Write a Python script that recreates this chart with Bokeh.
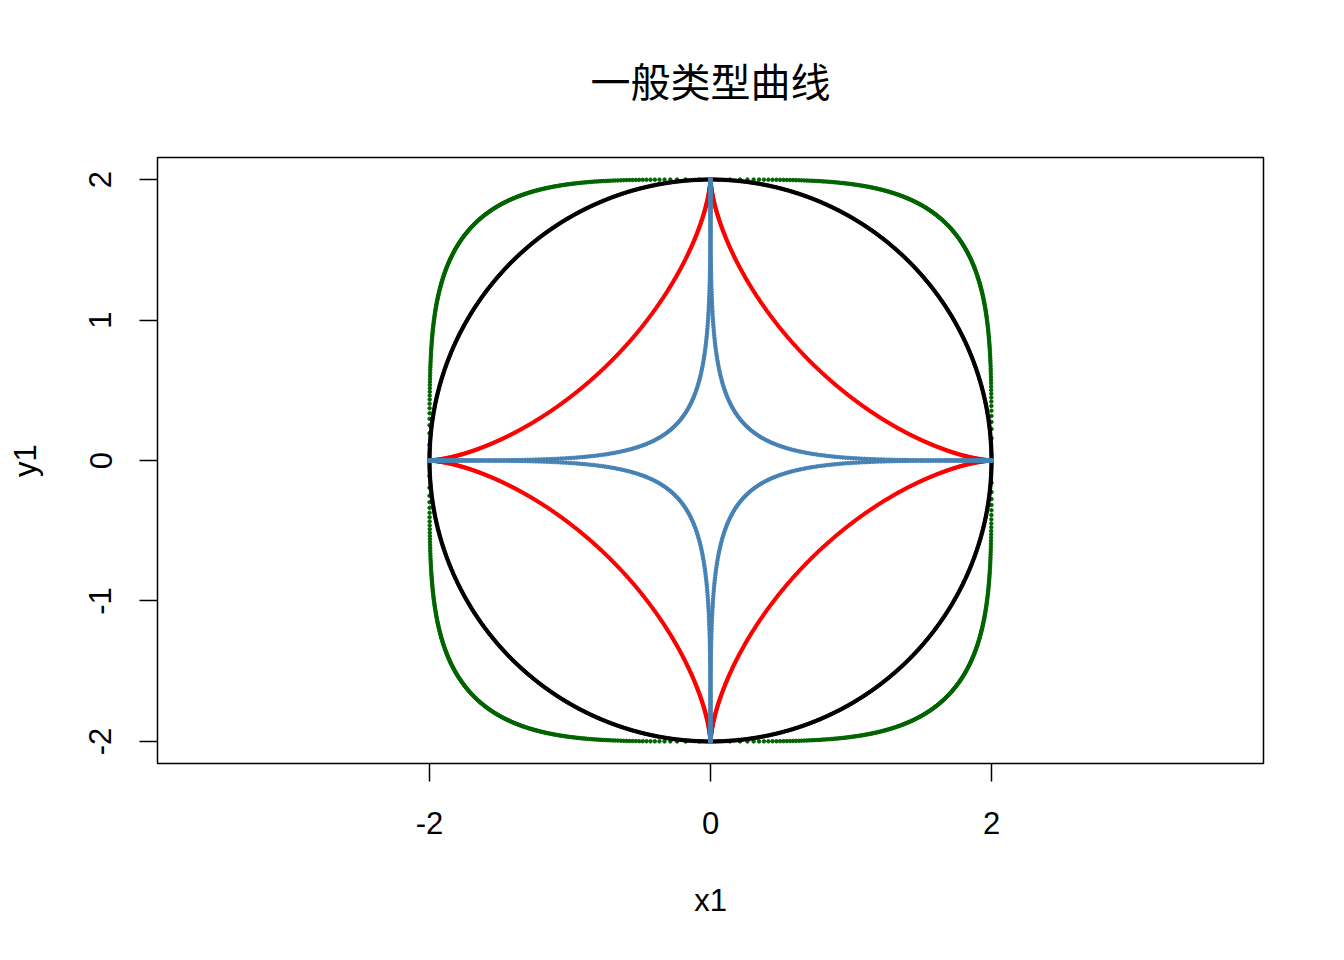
import numpy as np
from bokeh.plotting import figure
from bokeh.models import Range1d, FixedTicker
from bokeh.embed import file_html
from bokeh.resources import INLINE

# Curve family: x = 2*sgn(cos t)|cos t|^k, y = 2*sgn(sin t)|sin t|^k
curve_names = ["n=4", "circle", "astroid", "star"]
exponents_k = [0.5, 1.0, 3.0, 6.0]
curve_colors = ["#006400", "#000000", "#FF0000", "#4682B4"]
radius = 2.0
n_points = 1000
x_ticks = [-2, 0, 2]
y_ticks = [-2, -1, 0, 1, 2]

t = np.linspace(0, 2 * np.pi, n_points)

p = figure(width=1344, height=960, output_backend="svg", toolbar_location=None,
           x_range=Range1d(-3.936, 3.936), y_range=Range1d(-2.157, 2.157),
           min_border_left=157, min_border_right=81, min_border_top=157, min_border_bottom=197,
           title="一般类型曲线")
p.background_fill_color = "white"
p.border_fill_color = "white"
p.outline_line_color = "black"
p.outline_line_width = 1.5
p.grid.visible = False

for k, col in zip(exponents_k, curve_colors):
    c, s = np.cos(t), np.sin(t)
    x = radius * np.sign(c) * np.abs(c) ** k
    y = radius * np.sign(s) * np.abs(s) ** k
    p.scatter(x, y, size=3.5, color=col, line_color=col)

p.title.align = "center"
p.title.text_font = "Noto Sans CJK SC"
p.title.text_font_size = "40px"
p.title.text_font_style = "normal"
p.title.text_color = "black"
p.title.standoff = 97

for ax in (p.xaxis[0], p.yaxis[0]):
    ax.axis_line_color = None
    ax.major_tick_in = 0
    ax.major_tick_out = 18
    ax.major_tick_line_width = 1.5
    ax.major_tick_line_color = "black"
    ax.minor_tick_line_color = None
    ax.major_label_text_font = "Liberation Sans"
    ax.major_label_text_font_size = "31px"
    ax.major_label_text_color = "black"
    ax.axis_label_text_font = "Liberation Sans"
    ax.axis_label_text_font_size = "31px"
    ax.axis_label_text_font_style = "normal"
    ax.axis_label_text_color = "black"

p.xaxis[0].ticker = FixedTicker(ticks=x_ticks)
p.yaxis[0].ticker = FixedTicker(ticks=y_ticks)
p.xaxis[0].major_label_overrides = {v: str(v) for v in x_ticks}
p.yaxis[0].major_label_overrides = {v: str(v) for v in y_ticks}
p.xaxis[0].axis_label = "x1"
p.yaxis[0].axis_label = "y1"
p.yaxis[0].major_label_orientation = "vertical"
p.xaxis[0].major_label_standoff = 30
p.yaxis[0].major_label_standoff = 28
p.xaxis[0].axis_label_standoff = 46
p.yaxis[0].axis_label_standoff = 44

open("out.html", "w").write(file_html(p, INLINE))
